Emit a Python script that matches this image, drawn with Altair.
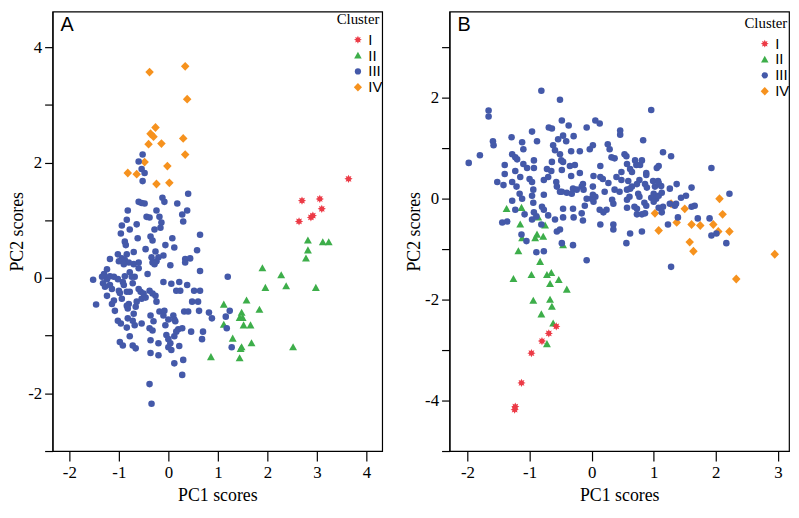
import altair as alt
import pandas as pd

clusters = ["I", "II", "III", "IV"]
colors = ["#EC3A46", "#3DAE4A", "#4459A9", "#F6921E"]
star = ("M0,-1.25L0.28,-0.64L0.88,-0.88L0.64,-0.28L1.25,0L0.64,0.28L0.88,0.88L0.28,0.64"
        "L0,1.25L-0.28,0.64L-0.88,0.88L-0.64,0.28L-1.25,0L-0.64,-0.28L-0.88,-0.88L-0.28,-0.64Z")
tri = "M0,-1.2L1.2,0.95L-1.2,0.95Z"
diam = "M0,-1.35L1.3,0L0,1.35L-1.3,0Z"
shapes = [star, tri, "circle", diam]
draw_order = {"II": 0, "I": 1, "IV": 2, "III": 3}

# ---------------- Panel A ----------------
A_I_pc1 = [3.64, 2.70, 3.06, 3.10, 2.64, 2.88, 2.92]
A_I_pc2 = [1.72, 1.34, 1.37, 1.20, 0.98, 1.05, 1.08]

A_II_pc1 = [2.82, 3.12, 3.24, 2.82, 2.78, 1.90, 2.28, 1.96, 2.38, 2.98, 1.58, 1.12, 1.84,
            1.48, 1.44, 1.50, 1.12, 1.52, 1.66, 1.30, 1.68, 1.48, 1.46, 2.52, 0.86, 1.44]
A_II_pc2 = [0.65, 0.62, 0.62, 0.48, 0.34, 0.17, 0.05, -0.17, -0.14, -0.17, -0.39, -0.46, -0.55,
            -0.60, -0.69, -0.69, -0.81, -0.82, -0.82, -1.05, -1.13, -1.20, -1.23, -1.20, -1.37, -1.39]

A_III_pc1 = [-0.52, -0.60, -0.54, -0.48, -0.52, 0.40, -0.60, -0.54, -0.48, -0.12, -0.08, 0.18,
             -0.82, -0.24, 0.38, -0.44, -0.38, -0.18, -0.84, 0.28, 0.30, -0.64, -0.14, -0.96,
             -0.78, -0.28, -0.16, -0.36, 0.08, 0.64, -0.88, -0.62, -0.86, -0.32, -0.06, 0.12,
             -0.46, -0.26, 0.58, -1.02, -0.94, -1.18, -0.10, 0.34, 0.44, -0.34, -0.20,
             -0.84, -0.70, -1.00, -0.88, -0.80, -0.60, -0.32, -0.24, 0.04, 0.34, 0.64, -1.30,
             -1.24, -1.32, -1.18, -1.02, -0.78, -0.60, -0.68, -0.92, -0.90, -0.72, -0.42, -0.28,
             -0.10, 0.06, 0.22, 0.16, 0.24, 0.64, 1.20, -1.52, -1.46, -1.14, -0.98, -0.94, -0.78,
             -0.60, -0.56, -0.54, -0.80, -0.64, -0.38, -0.32, -0.26, -0.46, -0.24, -1.08, -0.82,
             -0.70, -0.82, -1.02, -0.96, -0.84, -0.68, -0.54, -0.36, -0.30, -0.38, -0.32, -0.18,
             -0.08, -0.10, 0.00, 0.10, 0.12, 0.20, 0.28, 0.32, 0.40, 0.48, 0.60, 0.62, 0.46, 0.70,
             0.82, 0.88, 1.24, 1.18, -0.04, 0.16, 0.12, 0.00, -0.36, -0.20, 0.04, 0.00, 0.22,
             0.06, 0.68, -0.72, -0.66, -0.98, -0.92, -0.36, -0.20, 0.30, 0.12, 0.28, -0.38, -0.34,
             1.28, -1.10, -1.14, 1.16, 0.52, 0.38, -0.06, 0.14, -0.94, -1.24, -0.90, -0.70, -1.18,
             -1.34, -1.10, -0.88, -0.74, -1.28, -1.00, -1.24, -0.84, -0.50, -0.84, -0.66, -0.72,
             -0.78]
A_III_pc2 = [2.14, 2.02, 1.89, 1.82, 1.68, 1.46, 1.32, 1.30, 1.29, 1.39, 1.32, 1.29,
             1.17, 1.17, 1.17, 1.06, 1.05, 1.06, 1.01, 1.10, 0.98, 0.93, 0.96, 0.77,
             0.84, 0.84, 0.87, 0.72, 0.69, 0.75, 0.63, 0.69, 0.57, 0.65, 0.57, 0.53,
             0.50, 0.46, 0.48, 0.41, 0.34, 0.33, 0.39, 0.33, 0.34, 0.36, 0.36,
             0.41, 0.45, 0.29, 0.31, 0.27, 0.27, 0.27, 0.29, 0.22, 0.27, 0.12, 0.07,
             -0.02, -0.09, -0.12, -0.02, 0.10, 0.17, 0.02, -0.07, -0.12, -0.09, 0.07, 0.24,
             -0.07, -0.10, -0.07, -0.22, -0.22, -0.22, 0.02, -0.03, -0.46, -0.45, -0.26, -0.36, -0.24,
             -0.19, -0.24, -0.36, -0.45, -0.41, -0.22, -0.27, -0.31, -0.34, -0.41, -0.57, -0.53,
             -0.62, -0.70, -0.74, -0.79, -0.86, -0.82, -0.79, -0.65, -0.75, -0.87, -0.91, -0.58,
             -0.57, -0.65, -0.72, -0.65, -0.72, -0.89, -0.87, -0.58, -0.58, -0.41, -0.41, -0.57, -0.93, -0.93,
             -0.60, -0.70, -0.57, -0.87, -0.99, -0.93, -1.01, -1.06, -1.08, -1.13, -1.13, -1.20, -1.18,
             -1.25, -1.06, -1.17, -1.22, -1.11, -1.17, -1.30, -1.34, -1.42, -1.48, -1.68, -1.84, -2.18,
             -1.20, -0.39, -0.19, -0.67, -0.22, -0.12, -0.82, -0.75, 0.91, 0.15, 0.24, 0.24, 0.03,
             0.02, 0.02, 0.03, 0.02, -0.15, -0.22, -0.31, -0.24, -0.27, -0.48, -0.50, -0.74,
             -1.01]

A_IV_pc1 = [-0.38, 0.34, 0.38, -0.26, -0.36, -0.30, -0.40, -0.14, 0.30, 0.34, -0.48, -0.02,
            -0.82, -0.64, -0.24, 0.02]
A_IV_pc2 = [3.57, 3.67, 3.10, 2.61, 2.50, 2.45, 2.32, 2.33, 2.42, 2.14, 2.01, 1.94,
            1.82, 1.80, 1.63, 1.65]

# ---------------- Panel B ----------------
B_I_pc1 = [-0.57, -0.69, -0.80, -0.97, -1.13, -1.23, -1.24]
B_I_pc2 = [-2.53, -2.67, -2.82, -3.06, -3.65, -4.12, -4.18]

B_II_pc1 = [-1.37, -1.13, -0.86, -1.15, -0.75, -0.88, -0.78, -0.91, -1.12, -1.18, -0.83, -0.97,
            -1.26, -0.72, -0.65, -0.53, -0.67, -0.40, -0.94, -0.67, -0.64, -0.81, -0.62, -0.72, -0.46]
B_II_pc2 = [-0.20, -0.18, -0.37, -0.51, -0.53, -0.71, -0.75, -0.78, -0.78, -1.04, -1.25, -1.51,
            -1.59, -1.51, -1.47, -1.61, -1.69, -1.80, -2.02, -2.00, -2.14, -2.29, -2.47, -2.88, -0.92]

B_III_pc1 = [-0.81, -0.51, 0.96, -1.66, -1.66, -0.48, -0.37, -0.08, 0.06, 0.13, -0.69, -0.64,
             -0.96, -1.59, -1.58, -1.29, -1.12, -0.88, -0.46, -0.54, -0.29, 0.46, 0.46, -0.03,
             0.02, 0.26, 0.29, 0.83, 1.15, 1.28, -1.98, -1.80, -1.28, -1.23, -1.20, -1.10,
             -0.93, -0.62, -0.59, -0.51, -0.33, -0.19, -0.64, -0.49, 0.32, 0.37, 0.53, 0.56,
             0.70, 0.81, 0.57, 0.62, 0.72, 0.78, 0.88, 1.05, 1.08, 1.93, -1.40, -1.40,
             -1.23, -1.10, -1.04, -0.93, -0.72, -0.65, -0.46, -0.48, -0.35, -0.27, -0.33, -0.19,
             0.14, 0.14, 0.18, 0.40, 0.48, 0.48, 0.59, 0.62, 0.73, 0.77, 0.77, 0.86,
             0.89, 0.99, 1.02, 1.07, 1.12, 1.00, 0.96, 1.04, 1.08, 1.13, 1.26, 1.37,
             1.61, 1.44, 1.52, 1.26, 1.15, 0.85, 0.88, 0.57, 0.73, 0.81, 0.35, 0.24,
             0.19, 0.14, 0.35, 0.35, 0.03, 0.00, 0.02, -0.11, -0.16, -0.14, -0.29, -0.46,
             -0.56, -0.51, -0.30, -0.48, -0.77, -0.89, -1.05, -1.13, -0.96, -1.08, -0.89, -0.80,
             -0.77, -0.70, -0.59, -0.46, -0.96, -0.94, -1.12, -1.16, -1.28, -1.23, -1.44, -1.36,
             -1.52, -1.42, -1.28, -1.21, -1.15, -1.00, -0.96, -0.94, -0.77, -0.70, -0.57, -0.56,
             -0.51, -0.40, -0.30, -0.16, -0.13, -0.32, 0.37, 0.45, 0.57, 0.65, 1.23, 1.39,
             1.71, 1.90, 1.93, 2.01, 2.17, 2.22, 1.61, 0.56, 0.62, 0.81, -0.08, 1.28,
             1.66, 1.36, -0.41, -0.77, -0.93, 0.65, 0.03, 0.27, 0.88, 1.08, 0.75, 0.61,
             0.57, 0.33, 0.21, 0.02, 0.06, -0.08, -0.24, -0.14, -0.48, -0.30, 0.13, 0.69,
             1.00, 1.08, 1.34, 0.86, 1.13, 0.73, -0.81]
B_III_pc2 = [2.14, 1.96, 1.76, 1.75, 1.63, 1.55, 1.45, 1.41, 1.55, 1.49, 1.41, 1.39,
             1.33, 1.14, 1.06, 1.22, 1.12, 1.14, 1.25, 1.18, 1.24, 1.35, 1.27, 0.98,
             1.06, 1.08, 0.98, 1.16, 0.92, 0.84, 0.71, 0.86, 0.88, 0.82, 0.78, 0.98,
             0.76, 1.06, 0.96, 0.88, 0.94, 0.94, 0.73, 0.76, 0.82, 0.80, 0.88, 0.84,
             0.76, 0.76, 0.69, 0.59, 0.67, 0.67, 0.51, 0.61, 0.65, 0.61, 0.67, 0.49,
             0.55, 0.69, 0.61, 0.61, 0.59, 0.55, 0.73, 0.57, 0.65, 0.67, 0.45, 0.51,
             0.65, 0.43, 0.39, 0.43, 0.37, 0.53, 0.35, 0.20, 0.29, 0.37, 0.04, 0.29,
             0.22, 0.35, 0.24, 0.35, 0.25, 0.10, 0.02, 0.00, 0.06, 0.12, 0.20, 0.29,
             0.22, 0.02, 0.06, -0.10, -0.16, -0.08, -0.14, -0.18, -0.20, -0.31, -0.10, -0.22,
             -0.27, -0.51, -0.51, -0.61, -0.06, 0.00, 0.08, -0.14, -0.29, -0.43, -0.37, -0.37,
             -0.65, -0.61, -0.92, -0.88, -1.04, -1.06, -0.84, -0.71, -0.41, -0.31, -0.35, -0.16,
             -0.22, -0.33, -0.41, -0.20, 0.06, -0.08, 0.00, 0.10, -0.04, -0.22, -0.47, -0.45,
             0.33, 0.27, 0.33, 0.24, 0.43, 0.39, 0.33, 0.18, 0.37, 0.43, 0.33, 0.24,
             0.14, 0.12, 0.20, 0.24, 0.18, 0.10, 0.18, 0.14, 0.18, 0.24, -0.51, -0.37,
             -0.39, -0.39, -0.73, -0.69, -0.88, 0.10, -0.16, -0.88, -0.69, -0.65, -1.22, -1.35,
             -0.14, -0.10, 1.14, 0.08, -0.27, 0.53, 0.45, 0.31, 0.47, 0.31, 0.10, 0.04,
             -0.02, -0.02, 0.14, 0.24, 0.04, 0.00, 0.18, 0.29, 0.14, -0.20, -0.22, -0.16,
             -0.06, -0.18, -0.14, -0.29, -0.27, -0.31, -0.51]

B_IV_pc1 = [2.06, 1.28, 1.02, 1.50, 2.11, 1.37, 1.61, 1.75, 1.96, 2.04, 2.22, 1.08,
            1.58, 1.64, 2.95, 2.33]
B_IV_pc2 = [0.00, -0.10, -0.29, -0.20, -0.31, -0.47, -0.51, -0.53, -0.51, -0.65, -0.65, -0.63,
            -0.86, -1.04, -1.10, -1.59]


def make_df(groups):
    rows = []
    for name, xs, ys in groups:
        for x, y in zip(xs, ys):
            rows.append({"pc1": x, "pc2": y, "cluster": name, "draw": draw_order[name]})
    return pd.DataFrame(rows)


dfA = make_df([("I", A_I_pc1, A_I_pc2), ("II", A_II_pc1, A_II_pc2),
               ("III", A_III_pc1, A_III_pc2), ("IV", A_IV_pc1, A_IV_pc2)])
dfB = make_df([("I", B_I_pc1, B_I_pc2), ("II", B_II_pc1, B_II_pc2),
               ("III", B_III_pc1, B_III_pc2), ("IV", B_IV_pc1, B_IV_pc2)])

SERIF = "Liberation Serif"
SANS = "Liberation Sans"


def panel(df, letter, xdom, ydom, xticks, yticks, lx, ly, soff, width, height):
    leg = alt.Legend(
        orient="none", legendX=lx, legendY=ly, title="Cluster",
        titleFont=SERIF, titleFontSize=15, titleFontWeight="normal", titleColor="black",
        labelFont=SANS, labelFontSize=15, labelColor="black", labelOffset=3,
        symbolSize=40, symbolOffset=soff, symbolStrokeWidth=0, rowPadding=-1,
        titlePadding=5, padding=0,
    )
    pts = alt.Chart(df).mark_point(filled=True, opacity=1, size=44, strokeWidth=0).encode(
        x=alt.X("pc1:Q", scale=alt.Scale(domain=xdom, nice=False, zero=False),
                axis=alt.Axis(values=xticks, title="PC1 scores",
                              labelExpr="'' + datum.value", titlePadding=6)),
        y=alt.Y("pc2:Q", scale=alt.Scale(domain=ydom, nice=False, zero=False),
                axis=alt.Axis(values=yticks, title="PC2 scores",
                              labelExpr="datum.value % 2 == 0 ? '' + datum.value : ''",
                              titlePadding=1)),
        color=alt.Color("cluster:N", scale=alt.Scale(domain=clusters, range=colors), legend=leg),
        shape=alt.Shape("cluster:N", scale=alt.Scale(domain=clusters, range=shapes), legend=leg),
        order=alt.Order("draw:Q"),
    )
    lab = alt.Chart(pd.DataFrame({"t": [letter]})).mark_text(
        font=SANS, fontSize=20, align="left", baseline="alphabetic", color="black"
    ).encode(text="t:N", x=alt.value(8), y=alt.value(20))
    return alt.layer(pts, lab).properties(width=width, height=height)


pA = panel(dfA, "A", [-2.34, 4.32], [-3, 4.62], [-2, -1, 0, 1, 2, 3, 4],
           [-3, -2, -1, 0, 1, 2, 3, 4], 287, 1, 14, 333, 444)
pB = panel(dfB, "B", [-2.29, 3.18], [-5, 3.71], [-2, -1, 0, 1, 2, 3],
           [-5, -4, -3, -2, -1, 0, 1, 2, 3], 298, 5, 13, 343, 444)

chart = alt.hconcat(pA, pB, spacing=21).resolve_scale(
    color="independent", shape="independent"
).properties(padding=0).configure_view(
    stroke="black", strokeWidth=1.2
).configure_axis(
    grid=False, domainColor="black", domainWidth=1.2, tickColor="black", tickWidth=1.2,
    tickSize=8, labelPadding=3, labelColor="black", titleColor="black",
    labelFont=SERIF, labelFontSize=17, titleFont=SERIF, titleFontSize=18,
    titleFontWeight="normal",
).configure_axisX(labelPadding=4, tickSize=10)

chart.save("out.html", embed_options={"renderer": "svg", "actions": False})
